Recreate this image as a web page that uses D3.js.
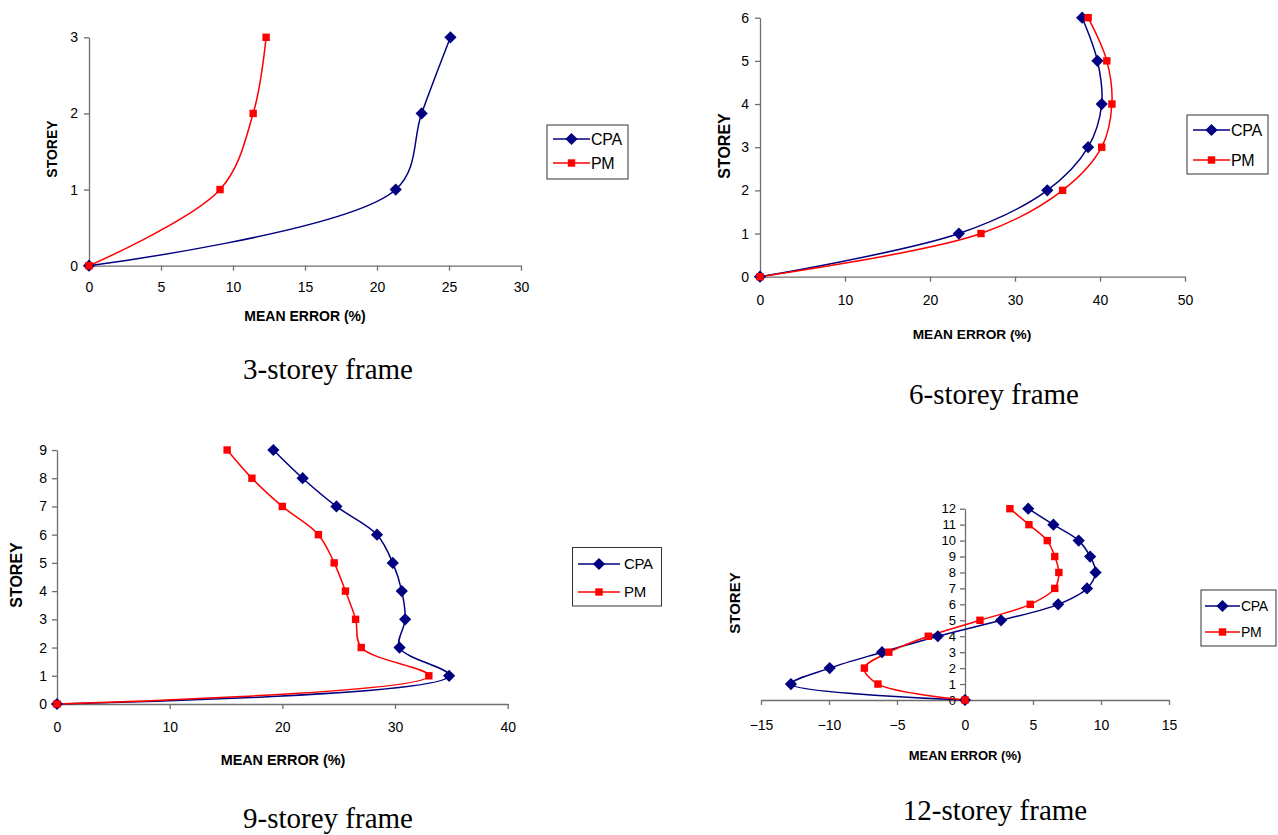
<!DOCTYPE html>
<html lang="en">
<head>
    <meta charset="UTF-8">
    <title>Mean error by storey</title>
    <script src="https://d3js.org/d3.v7.min.js"></script>
    <style>
        body { margin: 0; background: #fff; }
        svg text { font-family: "Liberation Sans", Arial, sans-serif; }
        svg text.caption { font-family: "Liberation Serif", "Times New Roman", serif; }
    </style>
</head>
<body>

<div id="chart-container"></div>

<script>
    // storey levels and mean errors (%)
    const storey3 = [0, 1, 2, 3];
    const cpa3 = [0, 21.3, 23.1, 25.1];
    const pm3 = [0, 9.1, 11.4, 12.3];

    const storey6 = [0, 1, 2, 3, 4, 5, 6];
    const cpa6 = [0, 23.4, 33.8, 38.6, 40.2, 39.7, 37.9];
    const pm6 = [0, 26.0, 35.6, 40.2, 41.4, 40.8, 38.6];

    const storey9 = [0, 1, 2, 3, 4, 5, 6, 7, 8, 9];
    const cpa9 = [0, 34.8, 30.4, 30.9, 30.6, 29.8, 28.4, 24.8, 21.8, 19.2];
    const pm9 = [0, 33.0, 27.0, 26.5, 25.6, 24.6, 23.2, 20.0, 17.3, 15.1];

    const storey12 = [0, 1, 2, 3, 4, 5, 6, 7, 8, 9, 10, 11, 12];
    const cpa12 = [0, -12.8, -9.95, -6.1, -2.0, 2.65, 6.85, 8.97, 9.6, 9.2, 8.36, 6.5, 4.65];
    const pm12 = [0, -6.4, -7.4, -5.6, -2.7, 1.1, 4.8, 6.6, 6.9, 6.6, 6.05, 4.7, 3.3];

    // tick labels
    const xTicks3 = [0, 5, 10, 15, 20, 25, 30];
    const xTicks6 = [0, 10, 20, 30, 40, 50];
    const xTicks9 = [0, 10, 20, 30, 40];
    const xTicks12 = [-15, -10, -5, 0, 5, 10, 15];

    const seriesNames = ["CPA", "PM"];
    const captions = ["3-storey frame", "6-storey frame", "9-storey frame", "12-storey frame"];

    const navy = "#000080";
    const red = "#ff0000";
    const axisColor = "#6e6e6e";

    const svg = d3.select("#chart-container")
        .append("svg")
        .attr("width", 1278)
        .attr("height", 835);

    // layout of each panel in page pixels
    const panels = [
        {
            storey: storey3, cpa: cpa3, pm: pm3, xTicks: xTicks3, xDomain: [0, 30],
            left: 89, right: 521, top: 37.3, bottom: 265.7, xPad: 11, yPad: 6, yFont: 14,
            xTitle: [305, 321, 14], yTitle: [52, 149, 14],
            legend: { x: 547, y: 125, w: 81, h: 54, rows: [139, 163], line: [553, 590], text: 591, font: 16 },
            caption: [328, 379, 0]
        },
        {
            storey: storey6, cpa: cpa6, pm: pm6, xTicks: xTicks6, xDomain: [0, 50],
            left: 760, right: 1185, top: 17.7, bottom: 276.7, xPad: 13, yPad: 6, yFont: 14,
            xTitle: [972, 339, 13.7], yTitle: [725, 146, 16],
            legend: { x: 1187, y: 115, w: 81, h: 59, rows: [130, 160], line: [1193, 1230], text: 1231, font: 16 },
            caption: [994, 404, 1]
        },
        {
            storey: storey9, cpa: cpa9, pm: pm9, xTicks: xTicks9, xDomain: [0, 40],
            left: 57, right: 507.7, top: 450, bottom: 704, xPad: 13, yPad: 5, yFont: 14,
            xTitle: [283, 765, 14.4], yTitle: [17, 575, 16],
            legend: { x: 572.5, y: 547.5, w: 89, h: 58.5, rows: [564, 592], line: [578, 620], text: 624, font: 15 },
            caption: [328, 828, 2]
        },
        {
            storey: storey12, cpa: cpa12, pm: pm12, xTicks: xTicks12, xDomain: [-15, 15],
            left: 761, right: 1169, top: 508.7, bottom: 700, xPad: 15, yPad: 4, yFont: 13,
            xTitle: [965, 760, 13], yTitle: [735, 603, 15],
            legend: { x: 1201, y: 590, w: 75, h: 56, rows: [606, 632], line: [1205, 1240], text: 1241, font: 14 },
            caption: [995, 820, 3]
        }
    ];

    panels.forEach(drawPanel);

    function drawPanel(p) {
        const x = d3.scaleLinear().domain(p.xDomain).range([p.left, p.right]);
        const y = d3.scaleLinear().domain([0, d3.max(p.storey)]).range([p.bottom, p.top]);

        const g = svg.append("g");

        // x axis sits on storey 0, y axis on zero error
        const xAxis = g.append("g")
            .attr("transform", `translate(0,${y(0)})`)
            .call(d3.axisBottom(x).tickValues(p.xTicks).tickSize(5).tickSizeOuter(0)
                .tickPadding(p.xPad).tickFormat(d3.format("d")));
        xAxis.selectAll("text").attr("font-size", 14).attr("fill", "#000");

        const yAxis = g.append("g")
            .attr("transform", `translate(${x(0)},0)`)
            .call(d3.axisLeft(y).tickValues(p.storey).tickSize(5).tickSizeOuter(0)
                .tickPadding(p.yPad).tickFormat(d3.format("d")));
        yAxis.selectAll("text").attr("font-size", p.yFont).attr("fill", "#000");

        g.selectAll(".domain, .tick line").attr("stroke", axisColor).attr("stroke-width", 1.3);

        // axis titles
        g.append("text")
            .attr("x", p.xTitle[0]).attr("y", p.xTitle[1])
            .attr("text-anchor", "middle")
            .attr("font-size", p.xTitle[2]).attr("font-weight", "bold")
            .text("MEAN ERROR (%)");

        g.append("text")
            .attr("transform", `translate(${p.yTitle[0] + 5},${p.yTitle[1]}) rotate(-90)`)
            .attr("text-anchor", "middle")
            .attr("font-size", p.yTitle[2]).attr("font-weight", "bold")
            .text("STOREY");

        // smoothed profiles
        const line = d3.line()
            .x(d => x(d[0]))
            .y(d => y(d[1]))
            .curve(d3.curveCatmullRom.alpha(0.5));

        const series = [
            { name: seriesNames[0], values: p.cpa, color: navy, shape: "diamond" },
            { name: seriesNames[1], values: p.pm, color: red, shape: "square" }
        ];

        series.forEach(s => {
            const pts = s.values.map((v, i) => [v, p.storey[i]]);
            g.append("path")
                .datum(pts)
                .attr("fill", "none")
                .attr("stroke", s.color)
                .attr("stroke-width", 1.5)
                .attr("d", line);
        });

        series.forEach(s => {
            const pts = s.values.map((v, i) => [v, p.storey[i]]);
            g.selectAll(null)
                .data(pts)
                .enter()
                .append("path")
                .attr("transform", d => `translate(${x(d[0])},${y(d[1])})`)
                .attr("d", symbolPath(s.shape))
                .attr("fill", s.color);
        });

        // legend
        const lg = g.append("g");
        lg.append("rect")
            .attr("x", p.legend.x).attr("y", p.legend.y)
            .attr("width", p.legend.w).attr("height", p.legend.h)
            .attr("fill", "#fff").attr("stroke", "#333").attr("stroke-width", 1);

        series.forEach((s, i) => {
            const ry = p.legend.rows[i];
            const [l0, l1] = p.legend.line;
            lg.append("line")
                .attr("x1", l0).attr("x2", l1).attr("y1", ry).attr("y2", ry)
                .attr("stroke", s.color).attr("stroke-width", 1.5);
            lg.append("path")
                .attr("transform", `translate(${(l0 + l1) / 2},${ry})`)
                .attr("d", symbolPath(s.shape))
                .attr("fill", s.color);
            lg.append("text")
                .attr("x", p.legend.text).attr("y", ry + p.legend.font * 0.36)
                .attr("font-size", p.legend.font)
                .attr("letter-spacing", -0.3)
                .text(s.name);
        });

        // caption under the panel
        svg.append("text")
            .attr("class", "caption")
            .attr("x", p.caption[0]).attr("y", p.caption[1])
            .attr("text-anchor", "middle")
            .attr("font-size", 29)
            .text(captions[p.caption[2]]);
    }

    function symbolPath(shape) {
        return shape === "diamond"
            ? d3.symbol().type(d3.symbolDiamond2).size(95)()
            : d3.symbol().type(d3.symbolSquare2).size(70)();
    }
</script>
</body>
</html>
